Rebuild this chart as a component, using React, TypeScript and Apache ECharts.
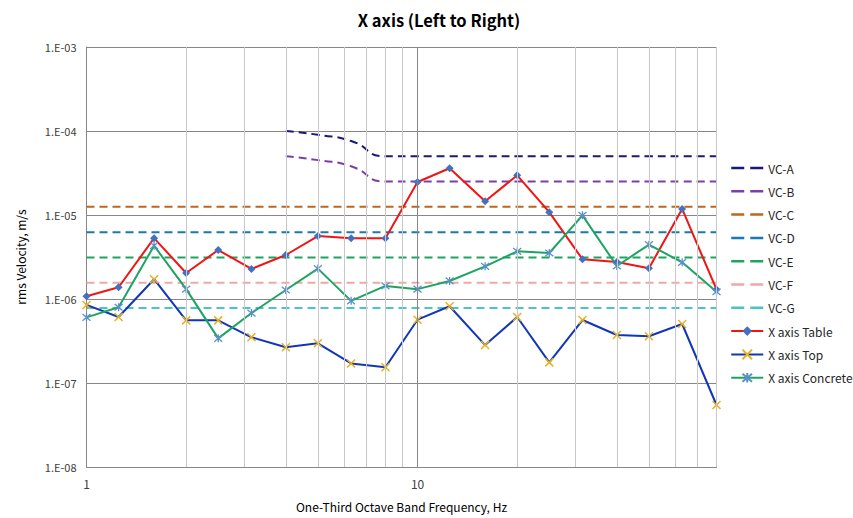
import React, { useEffect, useRef } from "react";
import * as echarts from "echarts";

const freqs = [1, 1.25, 1.6, 2, 2.5, 3.15, 4, 5, 6.3, 8, 10, 12.5, 16, 20, 25, 31.5, 40, 50, 63, 80];
const tableVals = [1.08e-6, 1.38e-6, 5.3e-6, 2.04e-6, 3.83e-6, 2.28e-6, 3.34e-6, 5.62e-6, 5.3e-6, 5.3e-6, 2.47e-5, 3.6e-5, 1.46e-5, 2.97e-5, 1.08e-5, 2.97e-6, 2.76e-6, 2.32e-6, 1.18e-5, 1.3e-6];
const topVals = [8.5e-7, 6.1e-7, 1.72e-6, 5.57e-7, 5.57e-7, 3.5e-7, 2.66e-7, 2.97e-7, 1.71e-7, 1.54e-7, 5.67e-7, 8.2e-7, 2.83e-7, 6.1e-7, 1.76e-7, 5.62e-7, 3.73e-7, 3.6e-7, 5.04e-7, 5.47e-8];
const concreteVals = [6.05e-7, 7.97e-7, 4.31e-6, 1.31e-6, 3.4e-7, 6.8e-7, 1.28e-6, 2.3e-6, 9.5e-7, 1.43e-6, 1.31e-6, 1.64e-6, 2.45e-6, 3.69e-6, 3.53e-6, 9.9e-6, 2.47e-6, 4.43e-6, 2.73e-6, 1.22e-6];

const vcAFreqs = [4, 5, 6.3, 8, 10, 12.5, 16, 20, 25, 31.5, 40, 50, 63, 80];
const vcAVals = [1e-4, 9e-5, 7.6e-5, 5e-5, 5e-5, 5e-5, 5e-5, 5e-5, 5e-5, 5e-5, 5e-5, 5e-5, 5e-5, 5e-5];
const vcBVals = [5e-5, 4.5e-5, 3.8e-5, 2.5e-5, 2.5e-5, 2.5e-5, 2.5e-5, 2.5e-5, 2.5e-5, 2.5e-5, 2.5e-5, 2.5e-5, 2.5e-5, 2.5e-5];

const vcFlatFreqs = [1, 80];
const vcCVal = 1.25e-5;
const vcDVal = 6.25e-6;
const vcEVal = 3.12e-6;
const vcFVal = 1.56e-6;
const vcGVal = 7.8e-7;

const vcNames = ["VC-A", "VC-B", "VC-C", "VC-D", "VC-E", "VC-F", "VC-G"];
const dataNames = ["X axis Table", "X axis Top", "X axis Concrete"];

const majorXGrid = [10];
const minorXGrid = [2, 3, 4, 5, 6, 7, 8, 9, 20, 30, 40, 50, 60, 70, 80];

const FONT = "'Noto Sans CJK KR', 'Noto Sans', sans-serif";

const pairs = (xs: number[], ys: (number | null)[]) => xs.map((x, i) => [x, ys[i]]);

const X_PATH = "path://M0 0L10 10M10 0L0 10";
const STAR_PATH = "path://M0 0L10 10M10 0L0 10M5 -1L5 11";

export default function App() {
  const ref = useRef<HTMLDivElement>(null);
  useEffect(() => {
    if (!ref.current) return;
    const chart = echarts.init(ref.current, undefined, { renderer: "svg" });
    const dash = (name: string, color: string, data: any[], smooth = false) => ({
      name,
      type: "line",
      data,
      smooth: smooth ? 0.6 : false,
      showSymbol: false,
      symbol: "circle",
      symbolSize: 0,
      z: 3,
      lineStyle: { color, width: 2, type: [8, 5] },
      itemStyle: { color },
    });
    const option: any = {
      animation: false,
      backgroundColor: "#ffffff",
      textStyle: { fontFamily: FONT },
      title: {
        text: "X axis (Left to Right)",
        left: 434,
        top: 7,
        textAlign: "center",
        textStyle: { fontFamily: FONT, fontSize: 16.5, fontWeight: "bold", color: "#000000" },
      },
      grid: { left: 86.5, right: 136.5, top: 47, bottom: 51 },
      legend: {
        orient: "vertical",
        left: 725,
        top: 157,
        itemWidth: 32,
        itemHeight: 12,
        itemGap: 11.3,
        textStyle: { fontFamily: FONT, fontSize: 12, color: "#262626" },
        data: [
          ...vcNames.map((n) => ({
            name: n,
            itemStyle: { opacity: 0 },
            lineStyle: { type: [13, 6], width: 2.5 },
          })),
          ...dataNames.map((n) => ({ name: n })),
        ],
      },
      xAxis: {
        type: "log",
        logBase: 10,
        min: 1,
        max: 80,
        name: "One-Third Octave Band Frequency, Hz",
        nameLocation: "middle",
        nameGap: 33,
        nameTextStyle: { fontFamily: FONT, fontSize: 12, color: "#000000" },
        axisLine: { show: true, lineStyle: { color: "#878787", width: 1 } },
        axisTick: { show: false },
        splitLine: { show: false },
        axisLabel: {
          fontFamily: FONT,
          fontSize: 12,
          color: "#404040",
          margin: 10,
          showMaxLabel: false,
          formatter: (v: number) => {
            const l = Math.log10(v);
            return Math.abs(l - Math.round(l)) < 1e-6 ? String(Math.round(v)) : "";
          },
        },
      },
      yAxis: {
        type: "log",
        logBase: 10,
        min: 1e-8,
        max: 1e-3,
        name: "rms Velocity, m/s",
        nameLocation: "middle",
        nameGap: 60,
        nameTextStyle: { fontFamily: FONT, fontSize: 12, color: "#000000" },
        axisLine: { show: true, lineStyle: { color: "#878787", width: 1 } },
        axisTick: { show: false },
        splitLine: { show: true, lineStyle: { color: "#878787", width: 1 } },
        axisLabel: {
          fontFamily: FONT,
          fontSize: 11,
          color: "#404040",
          margin: 10,
          formatter: (v: number) => {
            const e = Math.round(Math.log10(v));
            return "1.E-" + String(-e).padStart(2, "0");
          },
        },
      },
      series: [
        {
          name: "grid-minor",
          type: "line",
          data: [],
          z: 1,
          silent: true,
          markLine: {
            silent: true,
            symbol: "none",
            label: { show: false },
            lineStyle: { color: "#C8C8C8", width: 1, type: "solid" },
            data: minorXGrid.map((f) => ({ xAxis: f })),
          },
        },
        {
          name: "grid-major",
          type: "line",
          data: [],
          z: 1,
          silent: true,
          markLine: {
            silent: true,
            symbol: "none",
            label: { show: false },
            lineStyle: { color: "#878787", width: 1, type: "solid" },
            data: majorXGrid.map((f) => ({ xAxis: f })),
          },
        },
        dash("VC-A", "#1A1A78", pairs(vcAFreqs, vcAVals), true),
        dash("VC-B", "#7B3FA8", pairs(vcAFreqs, vcBVals), true),
        dash("VC-C", "#C0651E", pairs(vcFlatFreqs, [vcCVal, vcCVal])),
        dash("VC-D", "#1679B8", pairs(vcFlatFreqs, [vcDVal, vcDVal])),
        dash("VC-E", "#1EA460", pairs(vcFlatFreqs, [vcEVal, vcEVal])),
        dash("VC-F", "#F2A7A7", pairs(vcFlatFreqs, [vcFVal, vcFVal])),
        dash("VC-G", "#4CC4C4", pairs(vcFlatFreqs, [vcGVal, vcGVal])),
        {
          name: "X axis Table",
          type: "line",
          data: pairs(freqs, tableVals),
          z: 4,
          symbol: "diamond",
          symbolSize: 8,
          lineStyle: { color: "#F01414", width: 2 },
          itemStyle: { color: "#4470C0", borderColor: "#4470C0", borderWidth: 0 },
        },
        {
          name: "X axis Top",
          type: "line",
          data: pairs(freqs, topVals),
          z: 4,
          symbol: X_PATH,
          symbolSize: 8,
          lineStyle: { color: "#1236B8", width: 2 },
          itemStyle: { color: "#E8B21C", borderColor: "#E8B21C", borderWidth: 1.5 },
        },
        {
          name: "X axis Concrete",
          type: "line",
          data: pairs(freqs, concreteVals),
          z: 4,
          symbol: STAR_PATH,
          symbolSize: 8,
          lineStyle: { color: "#1DA462", width: 2 },
          itemStyle: { color: "#5B8FC8", borderColor: "#5B8FC8", borderWidth: 1.3 },
        },
      ],
    };
    chart.setOption(option);
    return () => chart.dispose();
  }, []);
  return (
    <div
      ref={ref}
      style={{ position: "fixed", left: 0, top: 0, width: 853, height: 518, background: "#fff" }}
    />
  );
}
